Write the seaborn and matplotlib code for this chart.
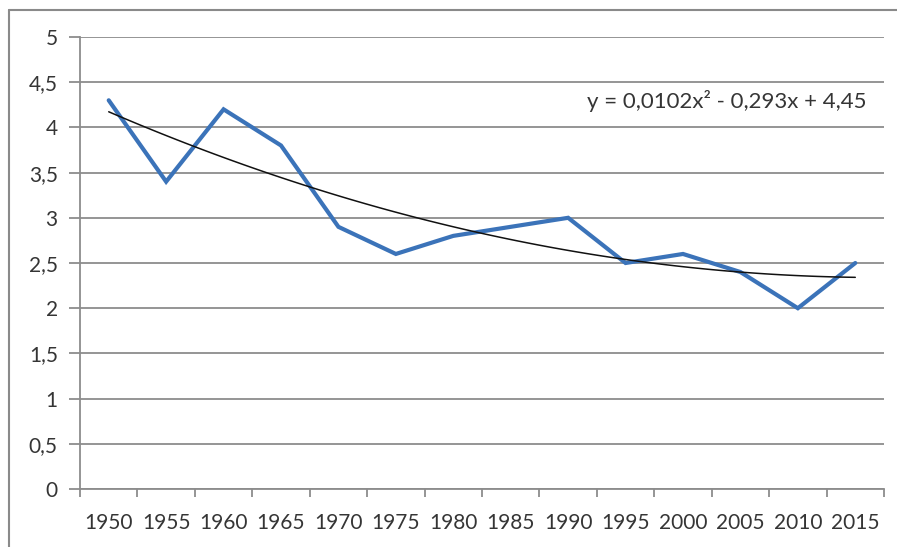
import matplotlib
matplotlib.use("Agg")
import matplotlib.pyplot as plt
import seaborn as sns
import numpy as np
import pandas as pd
from matplotlib.lines import Line2D

years = ["1950", "1955", "1960", "1965", "1970", "1975", "1980", "1985",
         "1990", "1995", "2000", "2005", "2010", "2015"]
values = [4.3, 3.4, 4.2, 3.8, 2.9, 2.6, 2.8, 2.9, 3.0, 2.5, 2.6, 2.4, 2.0, 2.5]
y_ticks = [0, 0.5, 1, 1.5, 2, 2.5, 3, 3.5, 4, 4.5, 5]
y_labels = ["0", "0,5", "1", "1,5", "2", "2,5", "3", "3,5", "4", "4,5", "5"]
equation = "y = 0,0102x² - 0,293x + 4,45"

sns.set_theme(style="white")
plt.rcParams['font.family'] = ['Lato', 'DejaVu Sans']

df = pd.DataFrame({"pos": np.arange(len(years)), "value": values})

fig = plt.figure(figsize=(8.97, 5.47), dpi=100)
ax = fig.add_axes([80/897, 1-489/547, (884-80)/897, (489-37)/547])

grid_c = "#8c8c8c"
txt_c = "#353535"

for yv in y_ticks:
    ax.axhline(yv, color=grid_c, lw=1.3, zorder=0)

sns.lineplot(data=df, x="pos", y="value", ax=ax, color="#3b73b9", lw=3.0,
             zorder=3, solid_joinstyle="miter")
sns.regplot(data=df, x="pos", y="value", ax=ax, order=2, ci=None,
            scatter=False, truncate=True,
            line_kws=dict(color="#111111", lw=1.1, zorder=4))

ax.set_xlim(-0.5, len(years) - 0.5)
ax.set_ylim(0, 5)
ax.set_xlabel("")
ax.set_ylabel("")

# category boundary ticks
ax.set_xticks(np.arange(len(years) + 1) - 0.5)
ax.set_xticklabels([])
ax.set_xticks(np.arange(len(years)), minor=True)
ax.set_xticklabels(years, minor=True)
ax.tick_params(axis="x", which="major", direction="out", length=6,
               width=1.3, color=grid_c, bottom=True)
ax.tick_params(axis="x", which="minor", length=0, pad=17,
               labelsize=15, labelcolor=txt_c)

ax.set_yticks(y_ticks)
ax.set_yticklabels(y_labels)
ax.tick_params(axis="y", direction="out", length=8, width=1.3, color=grid_c,
               left=True, pad=8, labelsize=15, labelcolor=txt_c)

for s in ["top", "right"]:
    ax.spines[s].set_visible(False)
ax.spines["left"].set_color(grid_c)
ax.spines["left"].set_linewidth(1.3)
ax.spines["bottom"].set_color(grid_c)
ax.spines["bottom"].set_linewidth(1.3)

ax.text(0.978, 4.29, equation, transform=ax.get_yaxis_transform(),
        ha="right", va="center", fontsize=16, color=txt_c)

# outer frame (left and top edges)
fig.add_artist(Line2D([9/897, 9/897], [0, 1-10/547], transform=fig.transFigure,
                      color="#8a8a8a", lw=1.5))
fig.add_artist(Line2D([9/897, 1], [1-10/547, 1-10/547], transform=fig.transFigure,
                      color="#8a8a8a", lw=1.5))

fig.savefig("out.png", dpi=100)
